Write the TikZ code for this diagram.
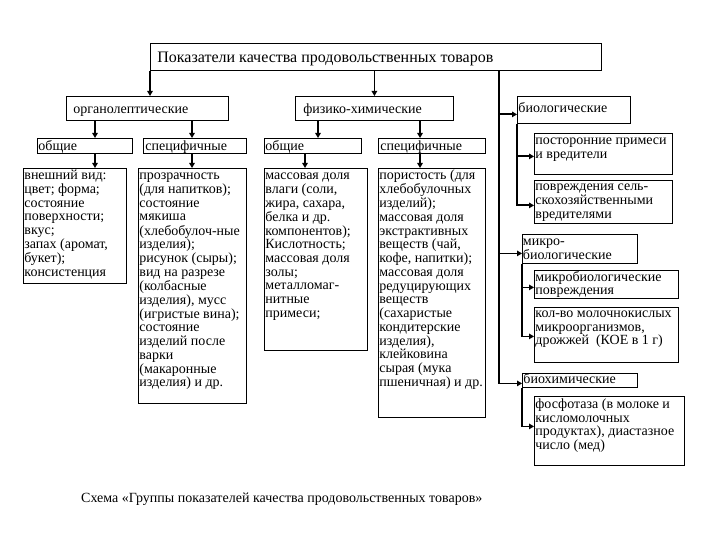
\documentclass[tikz,border=0pt]{standalone}
\usepackage{fontspec}
\setmainfont{Liberation Serif}
\usetikzlibrary{arrows.meta}
\newcommand{\bt}[5]{\parbox[c][#2][t]{#1}{\hspace*{#3}\rule{0pt}{#4}\begin{tabular}[t]{@{}l@{}}#5\end{tabular}}}
\begin{document}
\begin{tikzpicture}[x=1pt,y=-1pt,
  bx/.style={draw, line width=0.8pt, inner sep=0pt, anchor=north west, font=\fontsize{14pt}{13.7pt}\selectfont},
  arr/.style={line width=1.8pt, -{Triangle[length=5pt,width=5.5pt]}},
  thk/.style={line width=1.8pt}]
\fill[white] (0,0) rectangle (720,540);
\useasboundingbox (0,0) rectangle (720,540);

\node[bx, font=\fontsize{16pt}{16pt}\selectfont] (top) at (150,43) {\bt{451pt}{27pt}{7pt}{19pt}{Показатели качества продовольственных товаров}};
\node[bx] (organo) at (66,96) {\bt{162pt}{24pt}{7pt}{17pt}{органолептические}};
\node[bx] (phys) at (295,96) {\bt{158pt}{24pt}{8pt}{17pt}{физико-химические}};
\node[bx] (bio) at (517,96) {\bt{113pt}{27pt}{1pt}{15.7pt}{биологические}};

\node[bx] (og) at (37,138) {\bt{95pt}{15pt}{1pt}{12.5pt}{общие}};
\node[bx] (os) at (143,138) {\bt{103pt}{15pt}{2pt}{12.5pt}{специфичные}};
\node[bx] (pg) at (264,138) {\bt{97pt}{15pt}{1pt}{12.5pt}{общие}};
\node[bx] (ps) at (378,138) {\bt{107pt}{15pt}{2pt}{12.5pt}{специфичные}};

\node[bx] (ogc) at (23,168) {\bt{103pt}{115pt}{1pt}{11.3pt}{внешний вид:\\ цвет; форма;\\ состояние\\ поверхности;\\ вкус;\\ запах (аромат,\\ букет);\\ консистенция}};
\node[bx] (osc) at (138,168) {\bt{108pt}{235pt}{1pt}{11.3pt}{прозрачность\\ (для напитков);\\ состояние\\ мякиша\\ (хлебобулоч-ные\\ изделия);\\ рисунок (сыры);\\ вид на разрезе\\ (колбасные\\ изделия), мусс\\ (игристые вина);\\ состояние\\ изделий после\\ варки\\ (макаронные\\ изделия) и др.}};
\node[bx] (pgc) at (264,168) {\bt{103pt}{182pt}{1pt}{11.3pt}{массовая доля\\ влаги (соли,\\ жира, сахара,\\ белка и др.\\ компонентов);\\ Кислотность;\\ массовая доля\\ золы;\\ металломаг-\\ нитные\\ примеси;}};
\node[bx] (psc) at (378,168) {\bt{107pt}{249pt}{1pt}{11.3pt}{пористость (для\\ хлебобулочных\\ изделий);\\ массовая доля\\ экстрактивных\\ веществ (чай,\\ кофе, напитки);\\ массовая доля\\ редуцирующих\\ веществ\\ (сахаристые\\ кондитерские\\ изделия),\\ клейковина\\ сырая (мука\\ пшеничная) и др.}};

\node[bx] (post) at (534,133) {\bt{138pt}{41pt}{1pt}{11pt}{посторонние примеси\\ и вредители}};
\node[bx] (povr) at (534,180) {\bt{138pt}{43pt}{1pt}{10.5pt}{повреждения сель-\\ скохозяйственными\\ вредителями}};
\node[bx] (micro) at (522,234) {\bt{115pt}{29pt}{0.5pt}{11pt}{микро-\\ биологические}};
\node[bx] (mp) at (534,270) {\bt{144pt}{28pt}{1pt}{10.7pt}{микробиологические\\ повреждения}};
\node[bx] (kol) at (534,307) {\bt{144pt}{55pt}{1pt}{10pt}{кол-во молочнокислых\\ микроорганизмов,\\ дрожжей\ \ (КОЕ в 1 г)}};
\node[bx] (bc) at (522,373) {\bt{115pt}{14pt}{1pt}{10.5pt}{биохимические}};
\node[bx] (fos) at (534,396) {\bt{150pt}{69pt}{1pt}{12pt}{фосфотаза (в молоке и\\ кисломолочных\\ продуктах), диастазное\\ число (мед)}};

\node[anchor=base west, inner sep=0pt, font=\fontsize{14pt}{14pt}\selectfont] (cap) at (81,502) {Схема «Группы показателей качества продовольственных товаров»};

% main connectors
\draw[arr] (top.south west) -- (top.south west |- organo.north);
\draw[arr] (top.south -| phys.north) -- (phys.north);
\coordinate (sp) at (499,70);
\coordinate (bcA) at ([yshift=-3pt]bc.west);
\draw[arr] (top.south -| sp) |- (bcA);
\coordinate (bioA) at ([yshift=-4.5pt]bio.west);
\draw[arr] (bioA -| sp) -- (bioA);
\coordinate (micA) at ([yshift=-4.5pt]micro.west);
\draw[arr] (micA -| sp) -- (micA);

% organoleptic
\draw[arr] (organo.south -| 95,0) -- (og.north -| 95,0);
\draw[arr] (og.south -| 95,0) -- (ogc.north -| 95,0);
\draw[arr] (organo.south -| 192,0) -- (os.north -| 192,0);
\draw[arr] (os.south -| 192,0) -- (osc.north -| 192,0);
% physico-chemical
\draw[arr] (phys.south -| 318,0) -- (pg.north -| 318,0);
\draw[arr] (pg.south -| 305,0) -- (pgc.north -| 305,0);
\draw[arr] (phys.south -| 420,0) -- (ps.north -| 420,0);
\draw[arr] (ps.south -| 420,0) -- (psc.north -| 420,0);

% biological
\coordinate (postA) at ([yshift=-2.5pt]post.west);
\coordinate (povrA) at ([yshift=-3.5pt]povr.west);
\draw[arr] (bio.south west) |- (povrA);
\draw[arr] (postA -| bio.south west) -- (postA);
% microbiological
\coordinate (mpA) at ([yshift=-3pt]mp.west);
\coordinate (kolA) at ([yshift=-1.5pt]kol.west);
\draw[arr] (micro.south west) |- (kolA);
\draw[arr] (mpA -| micro.south west) -- (mpA);
% biochemical
\coordinate (fosA) at ([yshift=4.5pt]fos.west);
\draw[arr] (bc.south west) |- (fosA);
\end{tikzpicture}
\end{document}
